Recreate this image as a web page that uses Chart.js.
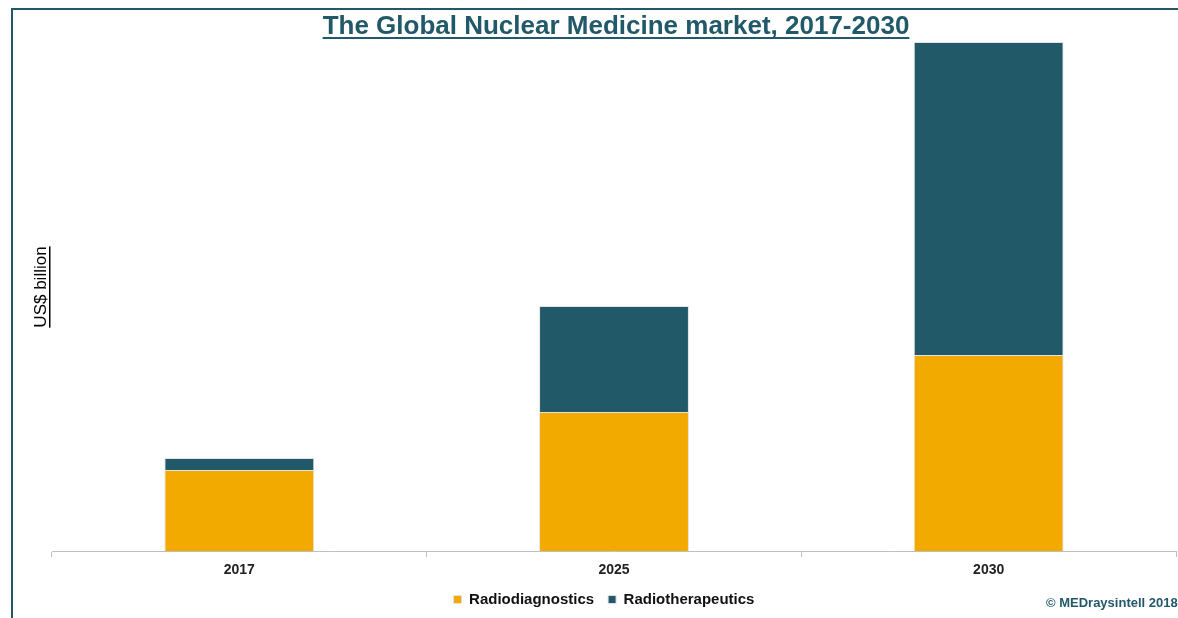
<!DOCTYPE html>
<html>
<head>
<meta charset="utf-8">
<script src="https://cdn.jsdelivr.net/npm/chart.js@4.4.1/dist/chart.umd.min.js"></script>
<style>
  html, body { margin: 0; padding: 0; background: #fff; }
  #wrap { position: relative; width: 1178px; height: 618px; }
</style>
</head>
<body>
<div id="wrap"><canvas id="myChart" width="1178" height="618"></canvas></div>
<script>
// data (US$ billion)
const years = ['2017', '2025', '2030'];
const radiodiagnostics = [3.98, 6.83, 9.63];
const radiotherapeutics = [0.59, 5.2, 15.37];

const teal = '#215968';
const orange = '#f2a900';

// frame, underlined title, y title and copyright
const decorations = {
    id: 'decorations',
    afterLayout(chart) {
        // legend sits a little left of the plot centre in the original
        if (chart.legend) {
            chart.legend.left -= 10;
            chart.legend.right -= 10;
        }
    },
    afterDraw(chart) {
        const c = chart.ctx;
        c.save();
        // frame lines
        c.strokeStyle = teal;
        c.lineWidth = 2;
        c.beginPath();
        c.moveTo(1178, 9);
        c.lineTo(12, 9);
        c.lineTo(12, 618);
        c.stroke();

        // title
        c.font = 'bold 26px "Liberation Sans", Arial, sans-serif';
        c.fillStyle = teal;
        c.textAlign = 'center';
        c.textBaseline = 'alphabetic';
        const title = 'The Global Nuclear Medicine market, 2017-2030';
        const tx = 616, ty = 34;
        c.fillText(title, tx, ty);
        const tw = c.measureText(title).width;
        c.fillRect(tx - tw / 2, ty + 3, tw, 2);

        // y axis title
        c.save();
        c.translate(46, 287);
        c.rotate(-Math.PI / 2);
        c.font = '17px "Liberation Sans", Arial, sans-serif';
        c.fillStyle = '#000';
        const yt = 'US$ billion';
        c.fillText(yt, 0, 0);
        const yw = c.measureText(yt).width;
        c.fillRect(-yw / 2, 3, yw, 1.5);
        c.restore();

        // copyright
        c.font = 'bold 13px "Liberation Sans", Arial, sans-serif';
        c.fillStyle = teal;
        c.textAlign = 'left';
        c.fillText('\u00a9 MEDraysintell 2018', 1046, 607);
        c.restore();
    }
};

const config = {
    type: 'bar',
    data: {
        labels: years,
        datasets: [{
            label: 'Radiodiagnostics',
            data: radiodiagnostics,
            backgroundColor: orange,
            borderColor: '#e3e3e3',
            borderWidth: 1
        }, {
            label: 'Radiotherapeutics',
            data: radiotherapeutics,
            backgroundColor: teal,
            borderColor: '#e3e3e3',
            borderWidth: 1
        }]
    },
    options: {
        responsive: false,
        animation: false,
        layout: {
            padding: { top: 42, left: 52, right: 2, bottom: 1 }
        },
        datasets: {
            bar: { categoryPercentage: 1, barPercentage: 0.4 }
        },
        scales: {
            x: {
                stacked: true,
                afterFit: function (scale) { scale.height = 27; },
                grid: {
                    offset: true,
                    drawOnChartArea: false,
                    tickLength: 6,
                    color: '#bfbfbf'
                },
                border: { color: '#bfbfbf' },
                ticks: {
                    color: '#222',
                    font: { family: '"Liberation Sans", Arial, sans-serif', size: 14, weight: 'bold' },
                    padding: 5
                }
            },
            y: {
                stacked: true,
                display: false,
                min: 0,
                max: 25
            }
        },
        plugins: {
            legend: {
                position: 'bottom',
                labels: {
                    boxWidth: 8,
                    boxHeight: 8,
                    color: '#111',
                    padding: 14,
                    font: { family: '"Liberation Sans", Arial, sans-serif', size: 15, weight: 'bold' }
                }
            },
            tooltip: { enabled: false }
        }
    },
    plugins: [decorations]
};

const myChart = new Chart(document.getElementById('myChart'), config);
</script>
</body>
</html>
